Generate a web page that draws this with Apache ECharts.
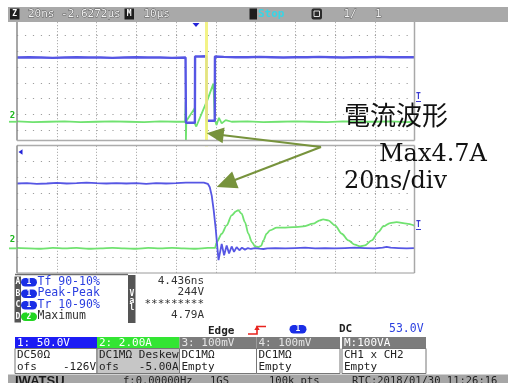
<!DOCTYPE html>
<html>
<head>
<meta charset="utf-8">
<script src="https://cdn.jsdelivr.net/npm/echarts@6/dist/echarts.min.js"></script>
<style>
  html, body { margin: 0; padding: 0; background: #ffffff; }
  #scope { width: 508px; height: 383px; }
</style>
</head>
<body>
<div id="scope"></div>
<script>
// ---- Main window, 10 µs/div: CH1 (V) and CH2 (A) ----
const mainCh1TimeUs = [0, 3, 6, 9, 12, 15, 18, 21, 24, 27, 30, 33, 36, 39, 42.4, 42.5, 43.5, 44.75, 44.8, 46, 47.65, 47.7, 48.8, 49.75, 49.8, 52, 55, 58, 61, 64, 67, 70, 73, 76, 79, 82, 85, 88, 91, 94, 97, 100];
const mainCh1Volts = [202, 203, 202, 201, 202, 203, 202, 202, 201, 202, 203, 202, 202, 201, 202, -3, -3, -3, 205, 205, 206, 3, 3, 3, 205, 204, 203, 203, 204, 203, 202, 203, 203, 204, 203, 202, 203, 203, 204, 203, 203, 203];
const mainCh2TimeUs = [0, 4, 8, 12, 16, 20, 24, 28, 32, 36, 40, 42.3, 42.45, 42.5, 42.6, 44.7, 44.8, 45.1, 45.4, 47.6, 47.65, 47.72, 47.8, 49.4, 49.8, 50.2, 50.8, 51.5, 52.5, 54, 58, 62, 66, 70, 74, 78, 82, 86, 90, 94, 98, 100];
const mainCh2Amps = [0.05, -0.05, 0, 0.05, -0.05, 0, 0.05, 0, -0.05, 0.05, 0, 0, 2.5, -2.3, 0.1, 1.7, -0.3, -0.6, -0.5, 2.4, 2.5, -1.4, 2.6, 4.8, 0.2, -0.4, 0.5, -0.2, 0.2, 0, 0.05, -0.05, 0, 0.05, 0, -0.05, 0.05, 0, 0, 0.05, -0.05, 0];

// ---- Zoom window, 20 ns/div: CH1 (V) and CH2 (A) ----
const zoomCh1TimeNs = [0, 5, 10, 15, 20, 25, 30, 35, 40, 45, 50, 55, 60, 65, 70, 75, 80, 85, 90,
  94, 96, 97, 98, 99, 100, 100.7, 101.4, 102.3, 103, 104.2, 105.5, 106.7, 108, 109.2, 110.5, 111.9, 113.2, 114.7, 116.2, 117.7, 119.7,
  122, 124, 126, 130, 135, 140, 145, 150, 155, 160, 165, 170, 175, 180, 184, 186, 188, 192, 196, 200];
const zoomCh1Volts = [204, 205, 203, 204, 206, 204, 205, 207, 205, 204, 205, 204, 205, 203, 205, 204, 205, 207, 207,
  207, 203, 192, 165, 118, 60, 10, -37, -8, 14, -22, 9, -16, 6, -11, 4, -6, 2, -4, 1, -2, 1,
  -1, -2, 0, 1, 0, 1, 2, 0, 1, 0, 1, 2, 1, 0, 2, 5, 2, 1, 0, 1];
const zoomCh2TimeNs = [0, 6, 12, 18, 24, 30, 36, 42, 48, 54, 60, 66, 72, 78, 84, 90, 96,
  99.6, 100.5, 103, 105.5, 108, 110.2, 111.3, 113, 114.7, 116.4, 118.2, 119.7, 121.4, 122.8, 124, 125.6, 127.3, 130.7, 134, 139, 144, 149,
  152.4, 154, 156.6, 160, 163.4, 166.7, 170, 172.6, 175, 178.5, 181.8, 184.3, 187.7, 191, 196, 200];
const zoomCh2Amps = [0.05, 0, -0.05, 0.05, 0, 0.05, -0.05, 0, 0.05, 0, -0.05, 0.05, 0, 0.05, 0, -0.05, 0.05,
  0.05, 0.79, 1.84, 2.89, 4.15, 4.65, 4.79, 4.36, 3.3, 1.84, 0.79, 0.25, 0.16, 0.31, 1.0, 1.84, 2.26, 2.6, 2.6, 2.67, 2.76, 3.1,
  3.52, 3.64, 3.52, 2.89, 1.84, 1.0, 0.46, 0.25, 0.37, 1.0, 2.05, 2.76, 3.18, 3.3, 3.1, 2.85];

// ---- Scope settings ----
const mainSpanUs = 100, mainStepUs = 10;
const zoomSpanNs = 200, zoomStepNs = 20;
const ch1VoltsPerDiv = 50, ch2AmpsPerDiv = 2;
const verticalDivs = 8, groundDiv = 1.55;
const cursorTimeUs = 47.72, triggerTimeUs = 45.03;

// ---- Panel texts ----
const headerTexts = ['20ns -2.6272µs', '10µs', 'Stop', '1/', '1'];
const measureKeys = ['A', 'B', 'C', 'D'];
const measureChannels = ['1', '1', '1', '2'];
const measureNames = ['Tf 90-10%', 'Peak-Peak', 'Tr 10-90%', 'Maximum'];
const measureValues = ['4.436ns', '244V', '*********', '4.79A'];
const triggerTexts = ['Edge', '1', 'DC', '53.0V'];
const channelScales = ['1: 50.0V', '2: 2.00A', '3: 100mV', '4: 100mV', 'M:100VA'];
const channelCoupling = ['DC50Ω', 'DC1MΩ', 'DC1MΩ', 'DC1MΩ', 'CH1 x CH2'];
const channelOffsets = [['ofs', '-126V'], ['ofs', '-5.00A'], ['Empty', ''], ['Empty', ''], ['Empty', '']];
const statusTexts = ['IWATSU', 'f:0.00000Hz', '1GS', '100k pts', 'RTC:2018/01/30 11:26:16'];
const noteTitle = '電流波形';
const noteLines = ['Max4.7A', '20ns/div'];

const zip = (xs, ys) => xs.map((x, i) => [x, ys[i]]);

const BLUE = '#5656e4';
const GREEN = '#70e270';
const GRID_GRAY = '#9e9e9e';
const MONO = '"DejaVu Sans Mono", "Liberation Mono", monospace';

const plotLeft = 17, plotWidth = 397.5, divPx = 15.9;
const mainTop = 19.2, zoomTop = 145.8, plotHeight = divPx * verticalDivs;

function divAxis(gridIndex) {
  return {
    gridIndex, type: 'value', min: 0, max: verticalDivs, interval: 1,
    axisLine: { show: false }, axisTick: { show: false }, axisLabel: { show: false },
    splitLine: { show: true, showMinLine: false, showMaxLine: false,
      lineStyle: { color: GRID_GRAY, width: 1.2, type: [1.2, 6.75] } }
  };
}
function timeAxis(gridIndex, span, step) {
  return {
    gridIndex, type: 'value', min: 0, max: span, interval: step,
    axisLine: { show: false }, axisTick: { show: false }, axisLabel: { show: false },
    splitLine: { show: true, showMinLine: false, showMaxLine: false,
      lineStyle: { color: GRID_GRAY, width: 1, type: [1, 2] } }
  };
}
function chanAxis(gridIndex, perDiv) {
  return { gridIndex, type: 'value', show: false,
    min: -groundDiv * perDiv, max: (verticalDivs - groundDiv) * perDiv };
}

const chart = echarts.init(document.getElementById('scope'));

chart.setOption({
  animation: false,
  backgroundColor: '#ffffff',
  grid: [
    { left: plotLeft, top: mainTop, width: plotWidth, height: plotHeight, containLabel: false },
    { left: plotLeft, top: zoomTop, width: plotWidth, height: plotHeight, containLabel: false }
  ],
  xAxis: [timeAxis(0, mainSpanUs, mainStepUs), timeAxis(1, zoomSpanNs, zoomStepNs)],
  yAxis: [
    divAxis(0), chanAxis(0, ch1VoltsPerDiv), chanAxis(0, ch2AmpsPerDiv),
    divAxis(1), chanAxis(1, ch1VoltsPerDiv), chanAxis(1, ch2AmpsPerDiv)
  ],
  series: [
    { type: 'line', name: 'CH2 main', xAxisIndex: 0, yAxisIndex: 2, data: zip(mainCh2TimeUs, mainCh2Amps),
      showSymbol: false, lineStyle: { color: GREEN, width: 1.8 }, z: 3,
      markLine: { silent: true, symbol: 'none', label: { show: false }, animation: false,
        lineStyle: { color: '#f2f27a', width: 3, type: 'solid', opacity: 0.9 },
        data: [{ xAxis: cursorTimeUs }] } },
    { type: 'line', name: 'CH1 main', xAxisIndex: 0, yAxisIndex: 1, data: zip(mainCh1TimeUs, mainCh1Volts),
      showSymbol: false, lineStyle: { color: BLUE, width: 2.4 }, z: 4 },
    { type: 'line', name: 'CH2 zoom', xAxisIndex: 1, yAxisIndex: 5, data: zip(zoomCh2TimeNs, zoomCh2Amps),
      showSymbol: false, smooth: 0.3, smoothMonotone: 'x', lineStyle: { color: GREEN, width: 1.8 }, z: 3 },
    { type: 'line', name: 'CH1 zoom', xAxisIndex: 1, yAxisIndex: 4, data: zip(zoomCh1TimeNs, zoomCh1Volts),
      showSymbol: false, lineStyle: { color: BLUE, width: 1.8 }, z: 4 }
  ]
});

// ---- Screen furniture ----
function txt(x, y, s, o = {}) {
  return { type: 'text', z: o.z || 120, silent: true,
    style: Object.assign({ x, y, text: s, fill: o.fill || '#222',
      font: o.font || `10.5px ${MONO}`, align: o.align || 'left', verticalAlign: o.va || 'middle' }, o.extra || {}) };
}
function box(x, y, w, h, fill, o = {}) {
  return { type: 'rect', z: o.z || 110, silent: true, shape: { x, y, width: w, height: h, r: o.r || 0 },
    style: { fill, stroke: o.stroke || null, lineWidth: o.lw || 0 } };
}
function seg(x1, y1, x2, y2, stroke, lw, z) {
  return { type: 'line', z: z || 115, silent: true, shape: { x1, y1, x2, y2 }, style: { stroke, lineWidth: lw } };
}
function poly(points, fill, z) {
  return { type: 'polygon', z: z || 118, silent: true, shape: { points }, style: { fill } };
}
function pill(x, y, label, fill) {
  return [box(x, y - 4, 16, 8.5, fill, { r: 4.2, z: 116 }),
    txt(x + 8, y + 0.3, label, { fill: '#ffffff', align: 'center', font: `bold 8px ${MONO}` })];
}
function arrow(tail, tip, headLen, half, color) {
  const dx = tip[0] - tail[0], dy = tip[1] - tail[1];
  const len = Math.hypot(dx, dy), ux = dx / len, uy = dy / len;
  const bx = tip[0] - ux * headLen, by = tip[1] - uy * headLen;
  const nx = -uy, ny = ux;
  return [
    seg(tail[0], tail[1], bx + ux * 2, by + uy * 2, color, 2, 190),
    poly([tip, [bx + nx * half, by + ny * half], [bx - nx * half, by - ny * half]], color, 191)
  ];
}

const px = (axisIdx, v, gridIdx) => chart.convertToPixel({ xAxisIndex: gridIdx }, v);
const py = (axisIdx, v) => chart.convertToPixel({ yAxisIndex: axisIdx }, v);

const right = plotLeft + plotWidth;
const g = [];

// header bar
const headStyle = { fill: '#f2f2f2', font: `11px ${MONO}`, extra: { stroke: '#5a5a5a', lineWidth: 0.9 } };
g.push(box(8, 7, 500, 15, '#a9a9a9'));
g.push(box(10, 8.5, 9.5, 11, '#1e1e1e'), txt(14.7, 13.8, 'Z', { fill: '#fff', align: 'center', font: `bold 8px ${MONO}` }));
g.push(txt(28, 14.2, headerTexts[0], headStyle));
g.push(box(124.5, 8.5, 9.5, 11, '#1e1e1e'), txt(129.2, 13.8, 'M', { fill: '#fff', align: 'center', font: `bold 8px ${MONO}` }));
g.push(txt(143.5, 14.2, headerTexts[1], headStyle));
g.push(box(249.5, 8.5, 7.5, 11, '#1e1e1e'));
g.push(txt(258, 14.2, headerTexts[2], { fill: '#36d6e6', font: `bold 11px ${MONO}` }));
g.push(box(311.5, 8.5, 10.5, 11, '#2a2a2a', { r: 2 }), box(314, 11, 5.5, 5.5, null, { stroke: '#ddd', lw: 1, z: 112 }));
g.push(txt(343.5, 14.2, headerTexts[3], headStyle), txt(375, 14.2, headerTexts[4], headStyle));

// trigger position mark above the main window
const trigX = px(0, triggerTimeUs, 0);
g.push(poly([[trigX - 3.5, 23], [trigX + 3.5, 23], [trigX, 27]], '#2323d8'));

// window frames
g.push(seg(plotLeft, 22, plotLeft, 140.5, '#8a8a8a', 1.5));
g.push(seg(right, 22, right, 140.5, '#a8a8a8', 1.5));
g.push(box(plotLeft - 1, 141, plotWidth + 2, 4, '#ffffff', { z: 108 }));
g.push(seg(plotLeft, 140.6, right, 140.6, '#acacac', 1.5));
g.push(seg(plotLeft, 145.4, right, 145.4, '#acacac', 1.5));
g.push(seg(plotLeft, 145.4, plotLeft, zoomTop + plotHeight, '#8a8a8a', 1.5));
g.push(seg(right, 145.4, right, zoomTop + plotHeight, '#a8a8a8', 1.5));
g.push(seg(plotLeft, zoomTop + plotHeight, right, zoomTop + plotHeight, '#9a9a9a', 1));

// ground / offset marks on the left, trigger-level marks on the right
const g2main = py(2, 0), g2zoom = py(5, 0);
g.push(seg(9, g2main, plotLeft, g2main, GREEN, 1.8), seg(9, g2zoom, plotLeft, g2zoom, GREEN, 1.8));
g.push(txt(12.5, g2main - 6.5, '2', { fill: '#1fb81f', align: 'center', font: `bold 9px ${MONO}` }));
g.push(txt(12.5, g2zoom - 9, '2', { fill: '#1fb81f', align: 'center', font: `bold 9px ${MONO}` }));
g.push(poly([[18.5, 152], [22.5, 149.3], [22.5, 154.7]], '#2323d8'));
g.push(txt(418.5, 97, 'T', { fill: '#3a3ad0', align: 'center', font: `bold 8px ${MONO}` }), seg(416, 101.5, 421, 101.5, '#3a3ad0', 1));
g.push(txt(418.5, 225, 'T', { fill: '#3a3ad0', align: 'center', font: `bold 8px ${MONO}` }), seg(416, 229.5, 421, 229.5, '#3a3ad0', 1));

// measurement panel
const rowsY = [282, 293.5, 305, 316.5];
const valsY = [281, 292.5, 304, 315.5];
g.push(seg(15, 274.6, 128, 274.6, '#6e6e6e', 1.5));
g.push(box(14.5, 276.5, 6.5, 46, '#555555'));
g.push(box(128, 275, 7.5, 48, '#555555'));
['V', 'a', 'l'].forEach((c, i) => g.push(txt(131.8, 294 + i * 7, c, { fill: '#fff', align: 'center', font: `bold 8px ${MONO}` })));
measureKeys.forEach((k, i) => {
  const isCh2 = measureChannels[i] === '2';
  g.push(txt(17.8, rowsY[i], k, { fill: '#fff', align: 'center', font: `bold 8px ${MONO}` }));
  g.push(...pill(21, rowsY[i], measureChannels[i], isCh2 ? '#22d622' : '#1a2ee6'));
  g.push(txt(37.5, rowsY[i], measureNames[i], { fill: isCh2 ? '#333' : '#2b3fe0', font: `11.5px ${MONO}` }));
  g.push(txt(204, valsY[i], measureValues[i], { fill: '#333', align: 'right', font: `11px ${MONO}` }));
});

// trigger line
g.push(txt(208, 331.5, triggerTexts[0], { fill: '#222', font: `bold 11px ${MONO}` }));
g.push({ type: 'polyline', z: 118, silent: true, shape: { points: [[248, 334], [257, 334], [257, 326.5], [266, 326.5]] },
  style: { stroke: '#e8231e', lineWidth: 1.6, fill: null } });
g.push(poly([[257, 325.5], [254.3, 330], [259.7, 330]], '#e8231e'));
g.push(box(289.5, 325, 17, 8.5, '#1a2ee6', { r: 4.2, z: 116 }), txt(298, 329.4, triggerTexts[1], { fill: '#fff', align: 'center', font: `bold 8px ${MONO}` }));
g.push(txt(339, 329.5, triggerTexts[2], { fill: '#222', font: `bold 11px ${MONO}` }));
g.push(txt(389, 329.5, triggerTexts[3], { fill: '#2b3fe0', font: `11.5px ${MONO}` }));

// channel table
const colX = [15, 97, 179.5, 256.5, 342];
const colW = [82, 82.5, 77, 83.5, 84];
const headFill = ['#1c1cf4', '#33e533', '#7c7c7c', '#7c7c7c', '#7c7c7c'];
const headInk = ['#ffffff', '#ffffff', '#e6e6e6', '#e6e6e6', '#ffffff'];
const bodyFill = ['#ffffff', '#c6c6c6', '#ffffff', '#ffffff', '#ffffff'];
channelScales.forEach((s, i) => {
  const x = colX[i], w = colW[i];
  g.push(box(x, 337, w, 11.5, headFill[i]));
  g.push(txt(x + 2, 342.9, s, { fill: headInk[i], font: `11px ${MONO}` }));
  g.push(box(x, 348.5, w, 25, bodyFill[i], { stroke: '#777', lw: 1 }));
  g.push(txt(x + 2, 355.2, channelCoupling[i], { fill: '#222', font: `11px ${MONO}` }));
  g.push(txt(x + 2, 367, channelOffsets[i][0], { fill: '#222', font: `11px ${MONO}` }));
  if (channelOffsets[i][1]) g.push(txt(x + w - 1, 367, channelOffsets[i][1], { fill: '#222', align: 'right', font: `11px ${MONO}` }));
});
g.push(txt(colX[1] + colW[1] - 1, 355.2, 'Deskew', { fill: '#222', align: 'right', font: `11px ${MONO}` }));

// status bar (runs off the bottom edge)
g.push(box(8, 374.5, 500, 9, '#a6a6a6'));
g.push(txt(15, 374.6, statusTexts[0], { fill: '#1b1b1b', va: 'top', font: 'bold 13px "Liberation Sans", Arial, sans-serif' }));
g.push(txt(123, 375.5, statusTexts[1], { fill: '#222', va: 'top', font: `10.5px ${MONO}` }));
g.push(txt(210, 375.5, statusTexts[2], { fill: '#222', va: 'top', font: `10.5px ${MONO}` }));
g.push(txt(269, 375.5, statusTexts[3], { fill: '#222', va: 'top', font: `10.5px ${MONO}` }));
g.push(txt(352, 375.5, statusTexts[4], { fill: '#222', va: 'top', font: `10.5px ${MONO}` }));

// annotation: title, values and pointer arrows
const OLIVE = '#77933c';
g.push(...arrow([321, 147], [206.7, 133.3], 17, 8, OLIVE));
g.push(...arrow([321, 147], [216.7, 187], 20, 9, OLIVE));
g.push(txt(344, 115, noteTitle, { fill: '#111', z: 200, font: '26px "Noto Sans CJK JP", sans-serif' }));
g.push(txt(379, 154.5, noteLines[0], { fill: '#111', z: 200, font: '24px "DejaVu Serif", serif' }));
g.push(txt(344, 181.5, noteLines[1], { fill: '#111', z: 200, font: '24px "DejaVu Serif", serif' }));

chart.setOption({ graphic: { elements: g } });
</script>
</body>
</html>
